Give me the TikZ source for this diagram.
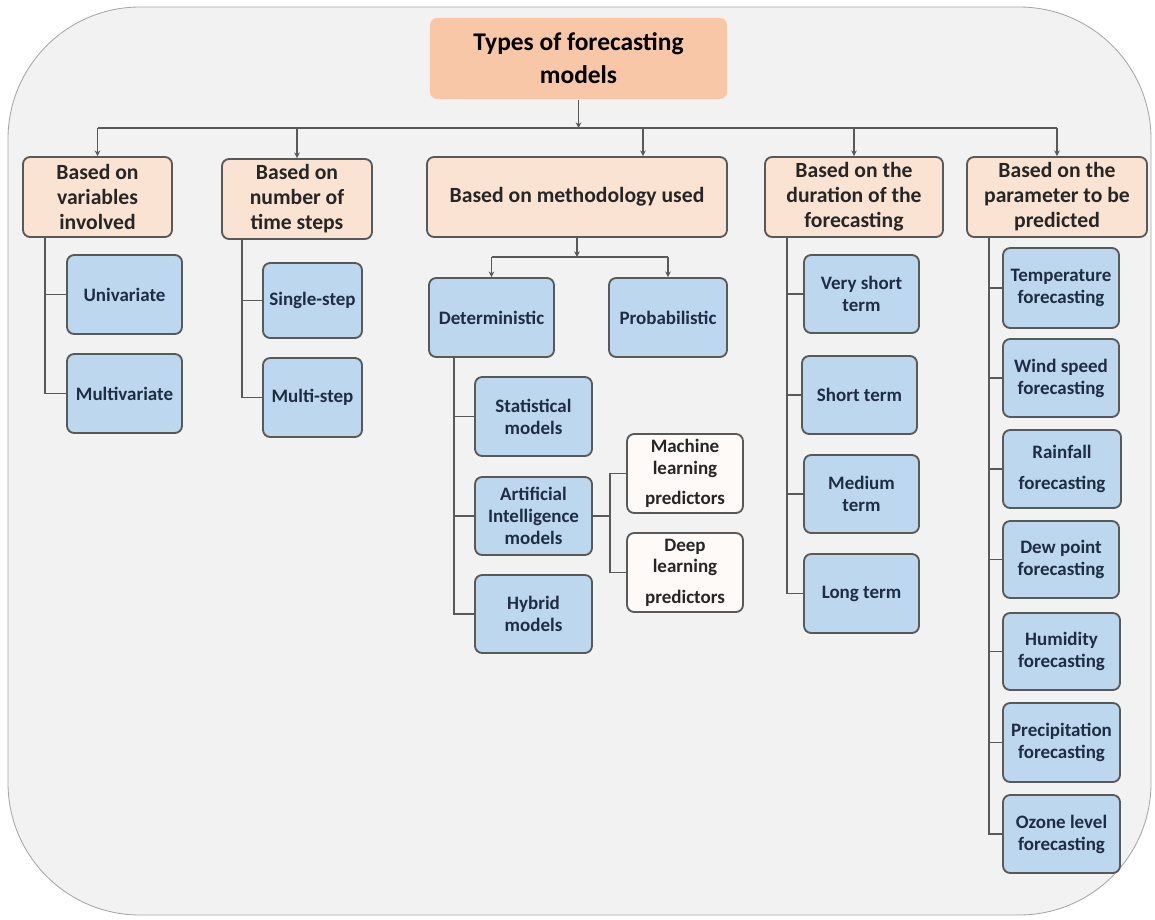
\documentclass[tikz,border=0pt]{standalone}
\usepackage{fontspec}
\setmainfont{Carlito}
\usetikzlibrary{calc,arrows.meta}
\definecolor{bgfill}{HTML}{F2F2F2}
\definecolor{bgline}{HTML}{A6A6A6}
\definecolor{rootfill}{HTML}{F7C7A7}
\definecolor{catfill}{HTML}{FBE3D3}
\definecolor{leaffill}{HTML}{BDD7EE}
\definecolor{subfill}{HTML}{FDFAF7}
\definecolor{linegray}{HTML}{595959}
\definecolor{leaftext}{HTML}{1F2D44}

\begin{document}
\begin{tikzpicture}[x=0.025cm, y=-0.025cm,
	box/.style={rounded corners=0.18cm, line width=1.3pt, draw=linegray, align=center, inner sep=0pt},
	rootbox/.style={box, draw=none, fill=rootfill, minimum width=7.425cm, minimum height=2.025cm, font=\fontsize{18.1}{23.5}\selectfont\bfseries},
	catbox/.style={box, fill=catfill, text=black!85, minimum height=2cm, font=\fontsize{15.4}{17.8}\selectfont\bfseries},
	leafbox/.style={box, fill=leaffill, text=leaftext, minimum width=2.9cm, minimum height=1.95cm, font=\fontsize{13.5}{15.6}\selectfont\bfseries},
	subbox/.style={leafbox, fill=subfill, text=black!85},
	wire/.style={line width=1.4pt, draw=linegray},
	tip/.style={wire, -{Stealth[length=4pt,width=4pt]}}
	]
		%%%%% BACKGROUND %%%%%
		\useasboundingbox (0,0) rectangle (1155,919);
		\draw[bgline, fill=bgfill, line width=0.6pt, rounded corners=3.3cm] (8,7) rectangle (1151,915);
		
		%%%%% TOP LEVELS %%%%%
		\node[rootbox] (root) at (578.5,58.5) {Types of forecasting\\models};
		
		\node[catbox, minimum width=3.725cm] (var) at (97.5,197) {Based on\\variables\\involved};
		\node[catbox, minimum width=3.75cm] (steps) at (297,199) {Based on\\number of\\time steps};
		\node[catbox, minimum width=7.5cm] (meth) at (577,197) {Based on methodology used};
		\node[catbox, minimum width=4.45cm] (dur) at (854,197) {Based on the\\duration of the\\forecasting};
		\node[catbox, minimum width=4.5cm] (param) at (1057,197) {Based on the\\parameter to be\\predicted};
		
		%%%%% LEAVES %%%%%
		\node[leafbox, minimum width=2.875cm, minimum height=1.975cm] (uni) at (124.5,294.5) {Univariate};
		\node[leafbox, minimum width=2.875cm, minimum height=1.975cm] (multi) at (124.5,393.5) {Multivariate};
		
		\node[leafbox, minimum width=2.475cm, minimum height=1.875cm] (single) at (312.5,300.5) {Single-step};
		\node[leafbox, minimum width=2.475cm, minimum height=1.975cm] (multistep) at (312.5,397.5) {Multi-step};
		
		\node[leafbox, minimum width=3.125cm, minimum height=1.975cm] (det) at (491.5,317.5) {Deterministic};
		\node[leafbox, minimum width=2.95cm, minimum height=1.975cm] (prob) at (668,317.5) {Probabilistic};
		\node[leafbox, minimum width=2.925cm, minimum height=1.975cm] (stat) at (533.5,416.5) {Statistical\\models};
		\node[leafbox, minimum width=2.925cm] (ai) at (533.5,516) {Artificial\\Intelligence\\models};
		\node[leafbox, minimum width=2.925cm] (hyb) at (533.5,614) {Hybrid\\models};
		\node[subbox, minimum height=1.975cm] (ml) at (685,473.5) {Machine\\learning\\[6pt]predictors};
		\node[subbox, minimum height=1.975cm] (dl) at (685,572.5) {Deep\\learning\\[6pt]predictors};
		
		\node[leafbox, minimum width=2.875cm] (vst) at (861.5,294) {Very short\\term};
		\node[leafbox, minimum width=2.875cm] (st) at (859.5,395) {Short term};
		\node[leafbox, minimum width=2.875cm] (mt) at (861.5,494) {Medium\\term};
		\node[leafbox, minimum width=2.875cm, minimum height=1.975cm] (lt) at (861.5,593.5) {Long term};
		
		\node[leafbox, minimum height=2cm] (temp) at (1061,288) {Temperature\\forecasting};
		\node[leafbox] (wind) at (1061,378) {Wind speed\\forecasting};
		\node[leafbox, minimum width=2.95cm] (rain) at (1062,469) {Rainfall\\[6pt]forecasting};
		\node[leafbox, minimum height=1.925cm] (dew) at (1061,559.5) {Dew point\\forecasting};
		\node[leafbox, minimum width=2.925cm, minimum height=1.925cm] (hum) at (1061.5,651.5) {Humidity\\forecasting};
		\node[leafbox, minimum width=2.925cm, minimum height=1.975cm] (prec) at (1061.5,742.5) {Precipitation\\forecasting};
		\node[leafbox, minimum width=2.925cm] (ozone) at (1061.5,834) {Ozone level\\forecasting};
		
		%%%%% CONNECTORS %%%%%
		\coordinate (bus) at (578.5,128);
		\coordinate (methtop) at ($(meth.north)+(66,0)$);
		\draw[tip] (root) -- (bus);
		\draw[wire] (bus -| var.north) -- (bus -| param.north);
		\foreach \n in {var,steps,methtop,dur,param}
			\draw[tip] (bus -| \n) -- (\n);
		
		\coordinate (methbus) at (577,257);
		\draw[tip] (meth) -- (methbus);
		\draw[wire] (methbus -| det.north) -- (methbus -| prob.north);
		\foreach \n in {det,prob}
			\draw[tip] (methbus -| \n.north) -- (\n.north);
		
		\coordinate (vartrunk) at (45,237);
		\foreach \n in {uni,multi}
			\draw[wire] (vartrunk) |- (\n.west);
		\coordinate (steptrunk) at (242,239);
		\foreach \n in {single,multistep}
			\draw[wire] (steptrunk) |- (\n.west);
		\coordinate (dettrunk) at (454,357);
		\foreach \n in {stat,ai,hyb}
			\draw[wire] (dettrunk) |- (\n.west);
		\coordinate (aijoint) at (610,516);
		\draw[wire] (ai.east) -- (aijoint);
		\foreach \n in {ml,dl}
			\draw[wire] (aijoint) |- (\n.west);
		\coordinate (durtrunk) at (787,237);
		\foreach \n in {vst,st,mt,lt}
			\draw[wire] (durtrunk) |- (\n.west);
		\coordinate (partrunk) at (989,237);
		\foreach \n in {temp,wind,rain,dew,hum,prec,ozone}
			\draw[wire] (partrunk) |- (\n.west);
		
	\end{tikzpicture}
\end{document}
